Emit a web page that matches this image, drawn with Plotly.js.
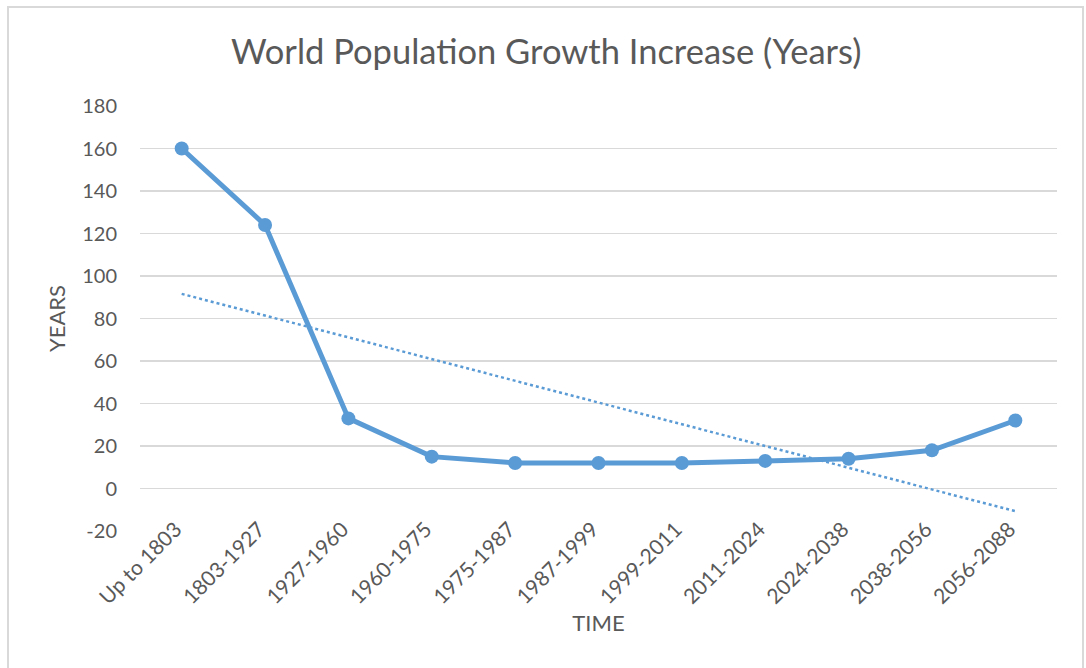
<!DOCTYPE html>
<html>
<head>
<meta charset="utf-8">
<script src="https://cdn.plot.ly/plotly-3.0.1.min.js"></script>
<style>
  html, body { margin: 0; padding: 0; background: #ffffff; }
  #wrap { position: relative; width: 1086px; height: 668px; }
  #chart { position: absolute; left: 0; top: 0; width: 1086px; height: 668px; }
  #frame { position: absolute; left: 7px; top: 6px; width: 1077px; height: 680px;
           border: 2px solid #D9D9D9; box-sizing: border-box; pointer-events: none; }
</style>
</head>
<body>
<div id="wrap">
  <div id="chart"></div>
  <div id="frame"></div>
</div>
<script>
const categories = ["Up to 1803", "1803-1927", "1927-1960", "1960-1975", "1975-1987",
                    "1987-1999", "1999-2011", "2011-2024", "2024-2038", "2038-2056", "2056-2088"];
const years = [160, 124, 33, 15, 12, 12, 12, 13, 14, 18, 32];
const yTicks = [-20, 0, 20, 40, 60, 80, 100, 120, 140, 160, 180];

// Linear trendline (least squares over category index), as Excel computes it
const n = years.length;
const idx = years.map((_, i) => i);
const mx = idx.reduce((a, b) => a + b, 0) / n;
const my = years.reduce((a, b) => a + b, 0) / n;
let sxy = 0, sxx = 0;
for (let i = 0; i < n; i++) { sxy += (idx[i] - mx) * (years[i] - my); sxx += (idx[i] - mx) ** 2; }
const slope = sxy / sxx;
const intercept = my - slope * mx;
const trend = idx.map(i => intercept + slope * i);

const blue = "#5B9BD5";
const grey = "#595959";
const font = "Lato, 'Open Sans', sans-serif";

const data = [
  {
    x: categories, y: years, type: "scatter", mode: "lines+markers",
    line: { color: blue, width: 5 },
    marker: { color: blue, size: 14 },
    hoverinfo: "x+y", showlegend: false
  },
  {
    x: categories, y: trend, type: "scatter", mode: "lines",
    line: { color: blue, width: 2.5, dash: "dot" },
    hoverinfo: "skip", showlegend: false
  }
];

const layout = {
  width: 1086, height: 668,
  margin: { l: 140, r: 29, t: 106, b: 137 },
  paper_bgcolor: "rgba(0,0,0,0)", plot_bgcolor: "#ffffff",
  font: { family: font, color: grey },
  title: {
    text: "World Population Growth Increase (Years)",
    font: { family: font, size: 34.5, color: grey },
    x: 0.503, xanchor: "center", y: 0.922, yanchor: "middle"
  },
  xaxis: {
    type: "category",
    range: [-0.5, 10.5],
    tickangle: -45,
    tickfont: { family: font, size: 21, color: grey },
    ticklabelstandoff: -19,
    ticklabelshift: -6,
    showgrid: false, zeroline: false, showline: false,
    ticks: "",
    title: { text: "TIME", font: { family: font, size: 22, color: grey }, standoff: 8 },
    automargin: false
  },
  yaxis: {
    range: [-20, 180],
    tickvals: yTicks,
    ticktext: yTicks.map(String),
    tickfont: { family: font, size: 20, color: grey },
    showgrid: true, gridcolor: "#D9D9D9", gridwidth: 1.5,
    zeroline: false, showline: false,
    ticks: "outside", ticklen: 18, tickcolor: "rgba(0,0,0,0)",
    title: { text: "YEARS", font: { family: font, size: 22, color: grey }, standoff: 10 },
    automargin: false
  }
};

Plotly.newPlot("chart", data, layout, { displayModeBar: false, staticPlot: true });
</script>
</body>
</html>
